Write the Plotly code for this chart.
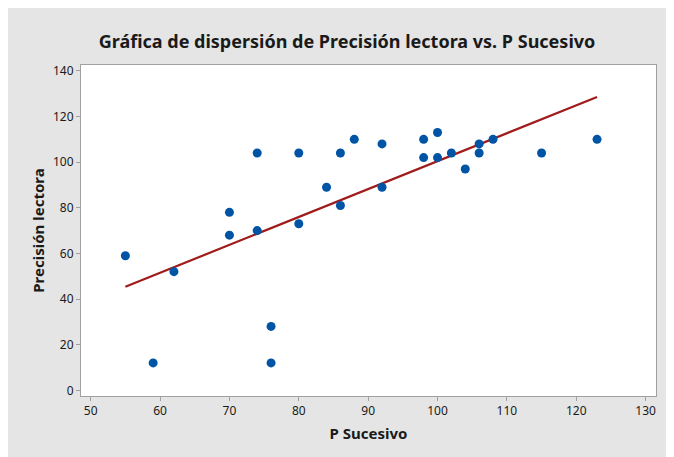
import plotly.graph_objects as go

# P Sucesivo vs Precisión lectora
p_sucesivo = [55, 59, 62, 70, 70, 74, 74, 76, 76, 80, 80, 84, 86, 86, 88, 92, 92,
              98, 98, 100, 100, 102, 104, 106, 106, 108, 115, 123]
precision = [59, 12, 52, 78, 68, 104, 70, 28, 12, 104, 73, 89, 104, 81, 110, 108, 89,
             110, 102, 113, 102, 104, 97, 108, 104, 110, 104, 110]

# fitted line endpoints
fit_x = [55, 123]
fit_y = [45.4, 128.6]

x_ticks = [50, 60, 70, 80, 90, 100, 110, 120, 130]
y_ticks = [0, 20, 40, 60, 80, 100, 120, 140]

# page body has an 8px margin, which gives the white strip at top/left
W, H = 666, 449
ML, MR, MT, MB = 73, 18, 57, 61
FONT = "Noto Sans"

fig = go.Figure()
fig.add_trace(go.Scatter(
    x=fit_x, y=fit_y, mode="lines",
    line=dict(color="#A01C1C", width=2.2),
    hoverinfo="skip", showlegend=False,
))
fig.add_trace(go.Scatter(
    x=p_sucesivo, y=precision, mode="markers",
    marker=dict(color="#0054A6", size=9),
    showlegend=False,
))

axis_common = dict(
    showgrid=False, zeroline=False, automargin=False,
    showline=True, linecolor="#a0a0a0", linewidth=1, mirror=True,
    ticks="outside", ticklen=4, tickcolor="#a0a0a0",
    tickfont=dict(family=FONT, size=12, color="#1a1a1a"),
)

fig.update_xaxes(range=[48.6, 131.5], tickvals=x_ticks,
                 title=dict(text="<b>P Sucesivo</b>", standoff=10,
                            font=dict(family=FONT, size=15, color="#1a1a1a")),
                 **axis_common)
fig.update_yaxes(range=[-2.5, 142.6], tickvals=y_ticks,
                 title=dict(text="<b>Precisión lectora</b>", standoff=4,
                            font=dict(family=FONT, size=15, color="#1a1a1a")),
                 **axis_common)

fig.update_layout(
    width=W, height=H,
    margin=dict(l=ML, r=MR, t=MT, b=MB),
    paper_bgcolor="#e5e5e5",
    plot_bgcolor="#ffffff",
    title=dict(text="<b>Gráfica de dispersión de Precisión lectora vs. P Sucesivo</b>",
               x=339 / W, xanchor="center", y=1 - 34 / H, yanchor="middle",
               font=dict(family=FONT, size=18, color="#1a1a1a")),
)

fig.write_html("out.html")
